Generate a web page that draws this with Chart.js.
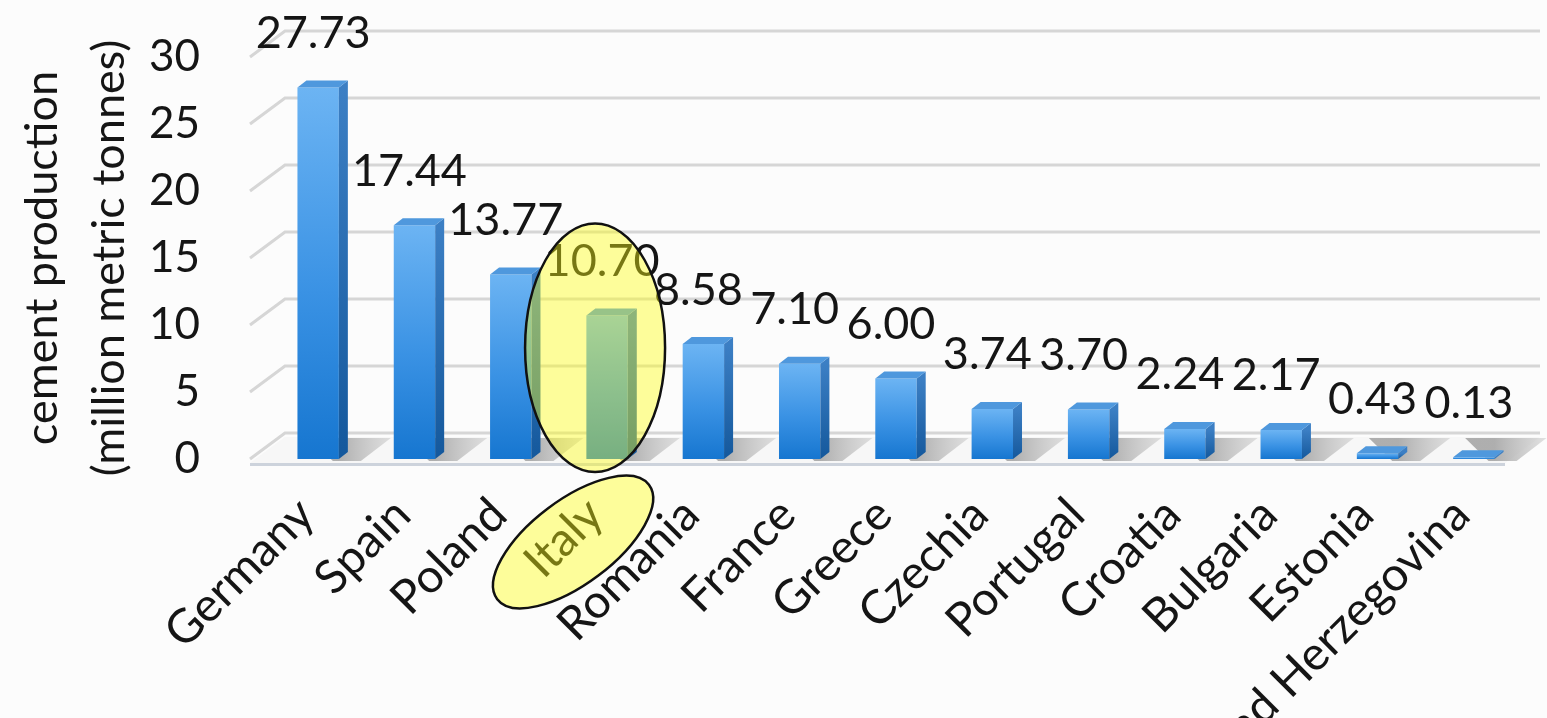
<!DOCTYPE html>
<html>
<head>
<meta charset="utf-8">
<script src="https://cdn.jsdelivr.net/npm/chart.js@4.4.1/dist/chart.umd.min.js"></script>
<style>
  html, body { margin: 0; padding: 0; background: #fcfcfc; }
  #wrap { width: 1547px; height: 718px; position: relative; overflow: hidden; }
  canvas { display: block; }
</style>
</head>
<body>
<div id="wrap"><canvas id="c" width="1547" height="718"></canvas></div>
<script>
// Cement production by country (million metric tonnes)
const countries = ['Germany', 'Spain', 'Poland', 'Italy', 'Romania', 'France', 'Greece',
  'Czechia', 'Portugal', 'Croatia', 'Bulgaria', 'Estonia', 'Bosnia and Herzegovina'];
const production = [27.73, 17.44, 13.77, 10.70, 8.58, 7.10, 6.00, 3.74, 3.70, 2.24, 2.17, 0.43, 0.13];
const yTicks = [0, 5, 10, 15, 20, 25, 30];
const axisTitle = ['cement production', '(million metric tonnes)'];
const highlighted = 'Italy';

const FONT = 'Lato';
const TEXT = '#151515';
// depth offsets of the pseudo-3D wall and of each bar
const WALL_DX = 35, WALL_DY = -26;
const BAR_DX = 9, BAR_DY = -7;

function frontGradient(ctx, top, bottom) {
  const g = ctx.createLinearGradient(0, top, 0, bottom);
  g.addColorStop(0, '#6cb4f3');
  g.addColorStop(0.55, '#3a92e4');
  g.addColorStop(1, '#1676d0');
  return g;
}

const background = {
  id: 'background',
  beforeDraw(chart) {
    const c = chart.ctx;
    c.save();
    c.fillStyle = '#fcfcfc';
    c.fillRect(0, 0, chart.width, chart.height);
    c.restore();
  }
};

// back wall gridlines, side wall diagonals and the floor with bar shadows
const wallAndFloor = {
  id: 'wallAndFloor',
  beforeDatasetsDraw(chart) {
    const c = chart.ctx, y = chart.scales.y, area = chart.chartArea;
    const x0 = area.left - 20;
    const xEnd = chart.width - 7;
    c.save();
    c.strokeStyle = '#d6d6d6';
    c.lineWidth = 3;
    yTicks.forEach(v => {
      const yf = y.getPixelForValue(v);
      c.beginPath();
      c.moveTo(x0, yf);
      c.lineTo(x0 + WALL_DX, yf + WALL_DY);
      c.lineTo(xEnd, yf + WALL_DY);
      c.stroke();
    });

    // floor
    const y0 = y.getPixelForValue(0);
    const fy = y0 + 4, by = y0 + 4 + WALL_DY;
    const fxR = xEnd - WALL_DX;
    c.fillStyle = '#f7f7f7';
    c.beginPath();
    c.moveTo(x0, fy);
    c.lineTo(fxR, fy);
    c.lineTo(xEnd, by);
    c.lineTo(x0 + WALL_DX, by);
    c.closePath();
    c.fill();

    // shadows cast by each bar onto the floor
    const meta = chart.getDatasetMeta(0);
    meta.data.forEach(bar => {
      const xl = bar.x - bar.width / 2, xr = bar.x + bar.width / 2;
      const g = c.createLinearGradient(xr, 0, xr + 60, 0);
      g.addColorStop(0, 'rgba(150,150,150,0.75)');
      g.addColorStop(1, 'rgba(190,190,190,0.35)');
      c.fillStyle = g;
      c.beginPath();
      c.moveTo(xl + 12, by + 1);
      c.lineTo(xr + 52, by + 1);
      c.lineTo(xr + 22, fy - 2);
      c.lineTo(xr - 6, fy - 2);
      c.closePath();
      c.fill();
    });

    // floor front edge
    c.fillStyle = '#cdd3dc';
    c.fillRect(x0, fy, fxR - x0, 3);
    c.restore();
  }
};

// side and top faces of each bar, then the value labels
const barFaces = {
  id: 'barFaces',
  afterDatasetsDraw(chart) {
    const c = chart.ctx;
    const meta = chart.getDatasetMeta(0);
    c.save();
    meta.data.forEach((bar, i) => {
      const xl = bar.x - bar.width / 2, xr = bar.x + bar.width / 2;
      const top = bar.y, base = bar.base;
      // side face
      const sg = c.createLinearGradient(0, top, 0, base);
      sg.addColorStop(0, '#3c7fc4');
      sg.addColorStop(1, '#14589c');
      c.fillStyle = sg;
      c.beginPath();
      c.moveTo(xr, top);
      c.lineTo(xr + BAR_DX, top + BAR_DY);
      c.lineTo(xr + BAR_DX, base + BAR_DY);
      c.lineTo(xr, base);
      c.closePath();
      c.fill();
      // top face
      c.fillStyle = '#4f98dd';
      c.beginPath();
      c.moveTo(xl, top);
      c.lineTo(xl + BAR_DX, top + BAR_DY);
      c.lineTo(xr + BAR_DX, top + BAR_DY);
      c.lineTo(xr, top);
      c.closePath();
      c.fill();
    });

    c.fillStyle = TEXT;
    c.font = `45px ${FONT}`;
    c.textAlign = 'center';
    c.textBaseline = 'middle';
    meta.data.forEach((bar, i) => {
      c.fillText(production[i].toFixed(2), bar.x - 5, bar.y - 54);
    });
    c.restore();
  }
};

// translucent yellow highlight rings around the chosen country
const highlight = {
  id: 'highlight',
  afterDraw(chart) {
    const idx = countries.indexOf(highlighted);
    if (idx < 0) return;
    const bar = chart.getDatasetMeta(0).data[idx];
    const c = chart.ctx;
    c.save();
    c.fillStyle = 'rgba(255,255,20,0.42)';
    c.strokeStyle = '#111';
    c.lineWidth = 2.5;

    const top = bar.y - 92, bottom = bar.base + 13;
    c.beginPath();
    c.ellipse(bar.x - 12, (top + bottom) / 2, 70, (bottom - top) / 2, 0, 0, Math.PI * 2);
    c.fill();
    c.stroke();

    c.beginPath();
    c.ellipse(bar.x - 34, bar.base + 83, 95, 42, -37 * Math.PI / 180, 0, Math.PI * 2);
    c.fill();
    c.stroke();
    c.restore();
  }
};

const ctx = document.getElementById('c').getContext('2d');
new Chart(ctx, {
  type: 'bar',
  data: {
    labels: countries,
    datasets: [{
      data: production,
      backgroundColor(context) {
        const chart = context.chart;
        if (!chart.chartArea || context.type !== 'data') return '#3a92e4';
        const y = chart.scales.y;
        return frontGradient(chart.ctx, y.getPixelForValue(production[context.dataIndex]), y.getPixelForValue(0));
      },
      borderWidth: 0,
      categoryPercentage: 1,
      barPercentage: 0.43
    }]
  },
  options: {
    responsive: false,
    animation: false,
    devicePixelRatio: 1,
    layout: { padding: { top: 57, right: 25, left: 0, bottom: 0 } },
    plugins: { legend: { display: false }, tooltip: { enabled: false } },
    scales: {
      x: {
        grid: { display: false, drawTicks: false },
        border: { display: false },
        ticks: {
          autoSkip: false, minRotation: 45, maxRotation: 45, padding: 28, labelOffset: -12,
          font: { family: FONT, size: 47 }, color: TEXT
        },
        afterFit(scale) {
          scale.height = 259;
          scale.paddingLeft = 0;
          scale.paddingRight = 0;
        }
      },
      y: {
        min: 0, max: 30,
        grid: { display: false, drawTicks: false },
        border: { display: false },
        afterBuildTicks(scale) { scale.ticks = yTicks.map(v => ({ value: v })); },
        ticks: { padding: 70, font: { family: FONT, size: 44 }, color: TEXT },
        title: {
          display: true, text: axisTitle, color: TEXT,
          font: { family: FONT, size: 45, lineHeight: 1.49 },
          padding: { top: 9, bottom: 0 }
        },
        afterFit(scale) {
          scale.width = 270;
          scale.paddingTop = 0;
          scale.paddingBottom = 0;
        }
      }
    }
  },
  plugins: [background, wallAndFloor, barFaces, highlight]
});
</script>
</body>
</html>
